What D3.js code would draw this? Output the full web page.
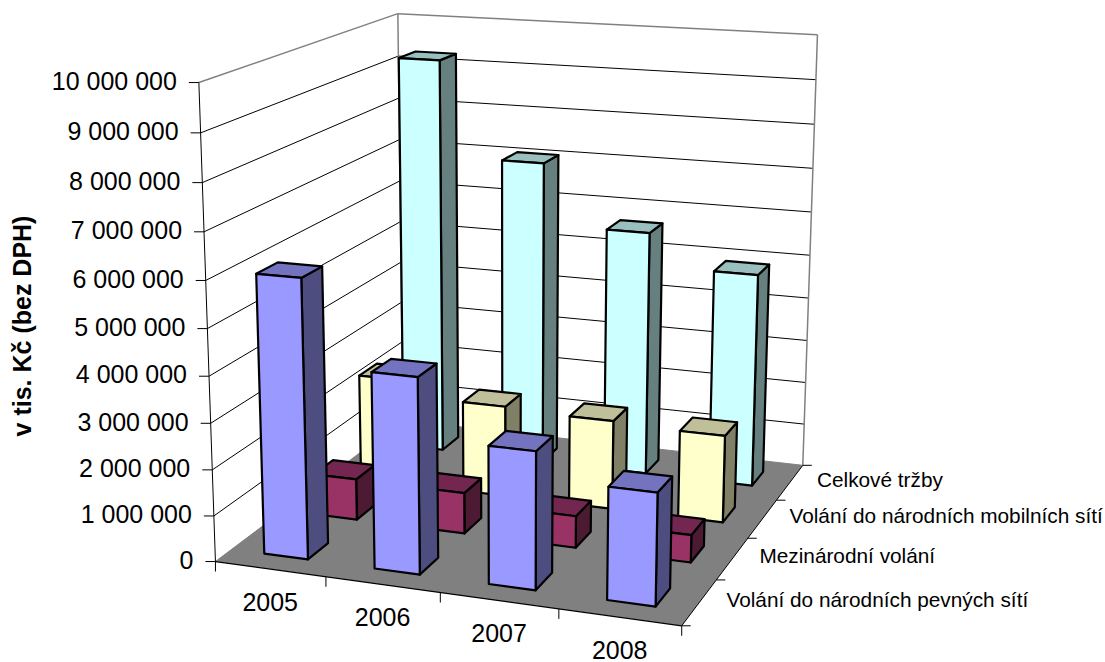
<!DOCTYPE html>
<html><head><meta charset="utf-8">
<script src="https://cdn.jsdelivr.net/npm/d3@7"></script>
<style>html,body{margin:0;background:#fff}svg{display:block}text{font-family:"Liberation Sans",Arial,sans-serif;fill:#000}</style>
</head><body><svg id="c" width="1105" height="662"></svg>
<script>
const years = ["2005","2006","2007","2008"];
const seriesNames = ["Volání do národních pevných sítí","Mezinárodní volání","Volání do národních mobilních sítí","Celkové tržby"];
const pevne = [6020000,4200000,2930000,2370000];
const mezinarodni = [920000,910000,700000,600000];
const mobilni = [2440000,2080000,2020000,1960000];
const celkem = [9260000,7060000,5650000,4900000];
const seriesValues = [pevne,mezinarodni,mobilni,celkem];
const valueTicks = d3.range(0,10000001,1000000);
const axisTitle = "v tis. Kč (bez DPH)";
const palette = [
 {front:"#9999ff",side:"#4d4d80",top:"#7373bf"},
 {front:"#993366",side:"#4d1a33",top:"#732650"},
 {front:"#ffffcc",side:"#808066",top:"#bfbf99"},
 {front:"#ccffff",side:"#668080",top:"#99bfbf"}];

// camera fitted to the corners of the plot box
const anchors = [
 [0,0,0,216,560],[1,0,0,682,627],[1,1,0,803,464],[0,1,0,402,422],
 [0,0,1,198,83],[0,1,1,399,13],[1,1,1,817,35]];
function solve(A,b){const n=b.length;const M=A.map((r,i)=>[...r,b[i]]);
 for(let i=0;i<n;i++){let p=i;for(let k=i+1;k<n;k++)if(Math.abs(M[k][i])>Math.abs(M[p][i]))p=k;[M[i],M[p]]=[M[p],M[i]];
  for(let k=0;k<n;k++){if(k===i)continue;const f=M[k][i]/M[i][i];for(let j=i;j<=n;j++)M[k][j]-=f*M[i][j];}}
 return M.map((r,i)=>r[n]/r[i]);}
const rows=[],rhs=[];
anchors.forEach(([X,Y,Z,u,v])=>{
 rows.push([X,Y,Z,1,0,0,0,0,-u*X,-u*Y,-u*Z]);rhs.push(u);
 rows.push([0,0,0,0,X,Y,Z,1,-v*X,-v*Y,-v*Z]);rhs.push(v);});
const ATA=d3.range(11).map(i=>d3.range(11).map(j=>d3.sum(rows,r=>r[i]*r[j])));
const ATb=d3.range(11).map(i=>d3.sum(rows,(r,k)=>r[i]*rhs[k]));
const P=solve(ATA,ATb);
function proj(x,y,z){const w=P[8]*x+P[9]*y+P[10]*z+1;
 return [(P[0]*x+P[1]*y+P[2]*z+P[3])/w,(P[4]*x+P[5]*y+P[6]*z+P[7])/w];}

const xBand=d3.scaleBand().domain(years).range([0,1]).paddingInner(0.6).paddingOuter(0.3);
const dBand=d3.scaleBand().domain(seriesNames).range([0,1]).paddingInner(0.6).paddingOuter(0.3);
const zScale=d3.scaleLinear().domain([0,10000000]).range([0,1]);
const poly=d3.line();
const svg=d3.select("#c");
const gridColor="#000",frame="#808080";

function face(pts,fill,stroke,sw){svg.append("path").attr("d",poly(pts.map(p=>proj(...p)))+"Z")
 .attr("fill",fill).attr("stroke",stroke||"none").attr("stroke-width",sw||0).attr("stroke-linejoin","round");}
function seg(a,b,stroke,sw){svg.append("line").attr("x1",a[0]).attr("y1",a[1]).attr("x2",b[0]).attr("y2",b[1]).attr("stroke",stroke).attr("stroke-width",sw);}

face([[0,0,0],[1,0,0],[1,1,0],[0,1,0]],"#808080");
valueTicks.slice(1,-1).forEach(t=>{const z=zScale(t);
 seg(proj(0,0,z),proj(0,1,z),gridColor,1);seg(proj(0,1,z),proj(1,1,z),gridColor,1);});
seg(proj(0,0,1),proj(0,1,1),frame,1.5);
seg(proj(0,1,1),proj(1,1,1),frame,1.5);
seg(proj(0,1,0),proj(0,1,1),frame,1.5);
seg(proj(1,1,0),proj(1,1,1),frame,1.5);
seg(proj(0,1,0),proj(1,1,0),frame,1);
seg(proj(0,0,0),proj(0,1,0),frame,1);
seg(proj(1,0,0),proj(1,1,0),"#000",1);
d3.range(3,-1,-1).forEach(s=>{
 const name=seriesNames[s],d0=dBand(name),d1=d0+dBand.bandwidth(),c=palette[s];
 years.forEach((yr,i)=>{
  const x0=xBand(yr),x1=x0+xBand.bandwidth(),z=zScale(seriesValues[s][i]);
  face([[x1,d0,0],[x1,d1,0],[x1,d1,z],[x1,d0,z]],c.side,"#000",2.2);
  face([[x0,d0,z],[x1,d0,z],[x1,d1,z],[x0,d1,z]],c.top,"#000",2.2);
  face([[x0,d0,0],[x1,d0,0],[x1,d0,z],[x0,d0,z]],c.front,"#000",2.2);
 });
});
seg(proj(0,0,0),proj(0,0,1),"#000",1);
seg(proj(0,0,0),proj(1,0,0),"#000",1.2);
valueTicks.forEach(t=>{const p=proj(0,0,zScale(t));
 seg([p[0]-10,p[1]],p,"#000",1);
 svg.append("text").attr("x",p[0]-22).attr("y",p[1]-1.5).attr("dy","0.35em").attr("text-anchor","end").attr("font-size",25).text(d3.format(",")(t).replace(/,/g," "));});
d3.range(0,5).forEach(i=>{const p=proj(i/4,0,0);seg(p,[p[0],p[1]+10],"#000",1);});
d3.range(0,5).forEach(i=>{const p=proj(1,i/4,0);seg(p,[p[0]+9,p[1]],"#000",1);});
years.forEach(yr=>{const p=proj(xBand(yr)+xBand.bandwidth()/2,0,0);
 svg.append("text").attr("x",p[0]).attr("y",p[1]+33).attr("dy","0.35em").attr("text-anchor","middle").attr("font-size",25).text(yr);});
seriesNames.forEach(n=>{const p=proj(1,dBand(n)+dBand.bandwidth()/2,0);
 svg.append("text").attr("x",p[0]+27).attr("y",p[1]-3).attr("dy","0.35em").attr("font-size",20.8).text(n);});
svg.append("text").attr("transform","translate(22,326) rotate(-90)").attr("dy","0.35em").attr("text-anchor","middle")
 .attr("font-size",25).attr("font-weight","bold").text(axisTitle);
</script></body></html>
